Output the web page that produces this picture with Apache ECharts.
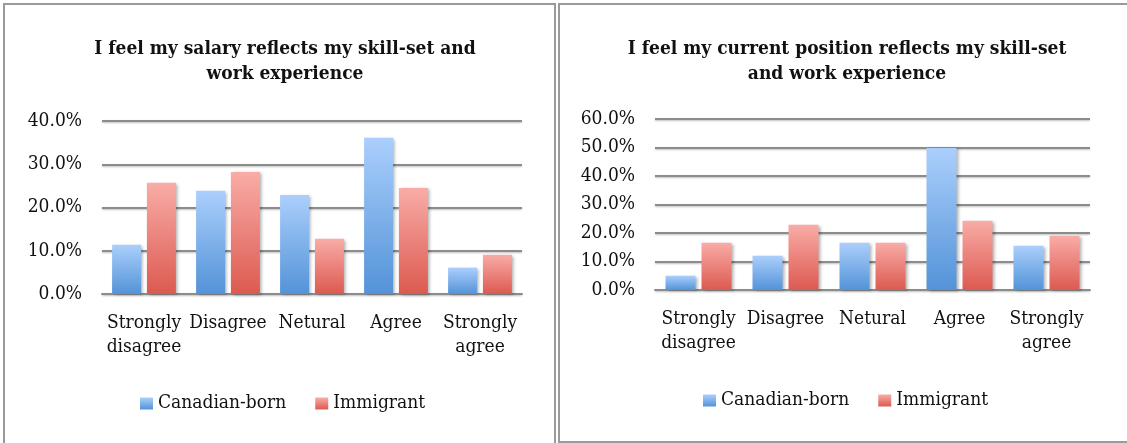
<!DOCTYPE html>
<html lang="en">
<head>
    <meta charset="UTF-8">
    <title>Salary and position vs skill-set</title>
    <style>
        html, body { margin: 0; padding: 0; background: #fff; }
        #main { width: 1127px; height: 443px; }
    </style>
</head>
<body>
<script src="https://cdn.jsdelivr.net/npm/echarts@6/dist/echarts.min.js"></script>
<div id="main"></div>
<script>
    var categories = ['Strongly\ndisagree', 'Disagree', 'Netural', 'Agree', 'Strongly\nagree'];
    var seriesNames = ['Canadian-born', 'Immigrant'];

    // left chart: salary (percent)
    var salaryCanadian = [11.4, 23.9, 22.9, 36.1, 6.1];
    var salaryImmigrant = [25.7, 28.2, 12.8, 24.5, 9.1];

    // right chart: current position (percent)
    var positionCanadian = [5.0, 12.0, 16.6, 49.8, 15.5];
    var positionImmigrant = [16.6, 22.9, 16.6, 24.3, 19.0];

    var titles = [
        'I feel my salary reflects my skill-set and\nwork experience',
        'I feel my current position reflects my skill-set\nand work experience'
    ];

    var FONT = '"DejaVu Serif Condensed", "DejaVu Serif", serif';
    var gridColor = '#8c8c8c';

    var blueFill = new echarts.graphic.LinearGradient(0, 0, 0, 1, [
        {offset: 0, color: '#abcffc'},
        {offset: 1, color: '#5393d8'}
    ]);
    var redFill = new echarts.graphic.LinearGradient(0, 0, 0, 1, [
        {offset: 0, color: '#f9aca7'},
        {offset: 1, color: '#dc5a50'}
    ]);

    var makeYAxis = function (idx, max) {
        return {
            type: 'value',
            gridIndex: idx,
            min: 0,
            max: max,
            interval: 10,
            axisLine: {show: false},
            axisTick: {show: false},
            splitLine: {
                lineStyle: {
                    color: gridColor, width: 2,
                    shadowColor: 'rgba(0,0,0,0.25)', shadowBlur: 2, shadowOffsetY: 1
                }
            },
            axisLabel: {
                margin: 20,
                color: '#111',
                fontFamily: FONT,
                fontSize: 19,
                formatter: function (v) { return v.toFixed(1) + '%'; }
            }
        };
    };

    var makeXAxis = function (idx) {
        return {
            type: 'category',
            gridIndex: idx,
            data: categories,
            axisLine: {lineStyle: {color: gridColor, width: 2}},
            axisTick: {show: false},
            axisLabel: {
                interval: 0,
                margin: 17,
                color: '#111',
                fontFamily: FONT,
                fontSize: 19,
                lineHeight: 24
            }
        };
    };

    var makeBar = function (name, idx, data, fill, width) {
        return {
            name: name,
            type: 'bar',
            xAxisIndex: idx,
            yAxisIndex: idx,
            barWidth: width,
            barGap: '20%',
            data: data,
            itemStyle: {
                color: fill,
                shadowColor: 'rgba(0,0,0,0.3)',
                shadowBlur: 3,
                shadowOffsetX: 2,
                shadowOffsetY: 1
            }
        };
    };

    var makeTitle = function (text, x) {
        return {
            text: text,
            left: x,
            top: 32,
            textAlign: 'center',
            textStyle: {
                fontFamily: FONT,
                fontSize: 19,
                fontWeight: 'bold',
                color: '#111',
                lineHeight: 25
            }
        };
    };

    var makeLegend = function (x, y) {
        return {
            left: x,
            top: y,
            padding: 0,
            data: seriesNames,
            itemWidth: 13,
            itemHeight: 12,
            itemGap: 29,
            icon: 'rect',
            textStyle: {fontFamily: FONT, fontSize: 19, color: '#111'}
        };
    };

    var chart = echarts.init(document.getElementById('main'));

    var option = {
        animation: false,
        title: [makeTitle(titles[0], 280), makeTitle(titles[1], 842)],
        legend: [makeLegend(140, 394), makeLegend(703, 391)],
        grid: [
            {left: 102, right: 605, top: 121, bottom: 149},
            {left: 655, right: 37, top: 119, bottom: 153}
        ],
        xAxis: [makeXAxis(0), makeXAxis(1)],
        yAxis: [makeYAxis(0, 40), makeYAxis(1, 60)],
        series: [
            makeBar(seriesNames[0], 0, salaryCanadian, blueFill, 29),
            makeBar(seriesNames[1], 0, salaryImmigrant, redFill, 29),
            makeBar(seriesNames[0], 1, positionCanadian, blueFill, 30),
            makeBar(seriesNames[1], 1, positionImmigrant, redFill, 30)
        ],
        graphic: [
            {
                type: 'rect',
                shape: {x: 4, y: 4, width: 551, height: 460},
                style: {fill: 'none', stroke: '#9a9a9a', lineWidth: 2}
            },
            {
                type: 'rect',
                shape: {x: 559, y: 4, width: 580, height: 438},
                style: {fill: 'none', stroke: '#9a9a9a', lineWidth: 2}
            }
        ]
    };

    chart.setOption(option);
</script>
</body>
</html>
